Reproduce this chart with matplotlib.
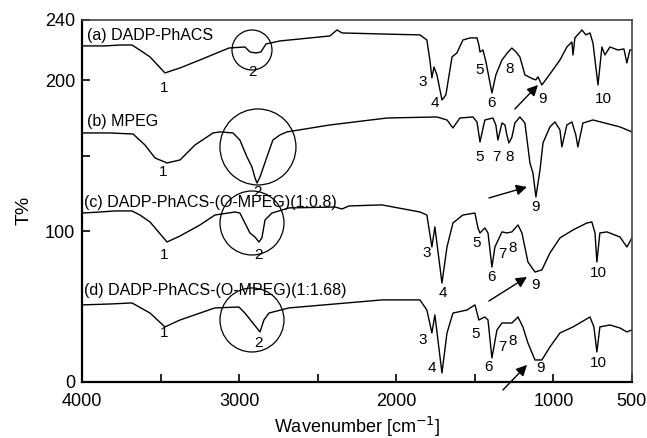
import numpy as np
import matplotlib
matplotlib.use("Agg")
import matplotlib.pyplot as plt
from matplotlib.patches import Ellipse

plt.rcParams['font.family'] = ['Liberation Sans', 'DejaVu Sans']

# --- spectra (wavenumber in cm-1, T%) ---
wn_a = [4000, 3854, 3758, 3682, 3631, 3567, 3472, 3376, 3249, 3065, 2963, 2931, 2893, 2861, 2829,
        2740, 2422, 2377, 2345, 2091, 1849, 1805, 1786, 1773, 1760, 1741, 1709, 1684, 1645, 1614,
        1576, 1531, 1486, 1474, 1467, 1448, 1429, 1391, 1366, 1327, 1288, 1264, 1238, 1213, 1181,
        1130, 1111, 1098, 1073, 1003, 958, 914, 882, 875, 863, 818, 793, 767, 748, 716, 691, 672,
        640, 589, 551, 532, 513, 500]
t_a = [222.8, 222.8, 223.4, 223.4, 220.0, 215.5, 204.9, 208.2, 213.5, 221.4, 222.1, 218.8, 218.1,
       218.8, 224.1, 226.1, 229.4, 233.4, 231.4, 230.7, 230.1, 226.7, 213.5, 201.6, 208.8, 203.6,
       187.0, 190.3, 215.5, 218.1, 226.7, 228.1, 228.1, 223.4, 218.8, 220.1, 212.2, 191.6, 203.6,
       213.5, 218.8, 221.4, 218.8, 215.5, 203.6, 200.9, 200.3, 202.3, 196.9, 206.9, 213.5, 222.1,
       225.4, 216.8, 228.1, 233.4, 230.1, 231.4, 224.8, 196.9, 222.1, 216.8, 222.1, 220.1, 220.8,
       211.5, 220.1, 220.1]

wn_b = [4000, 3822, 3675, 3599, 3535, 3459, 3376, 3281, 3166, 3122, 3039, 2995, 2950, 2918, 2899,
        2886, 2867, 2823, 2785, 2740, 2695, 2422, 2059, 1741, 1677, 1639, 1595, 1512, 1486, 1467,
        1436, 1385, 1366, 1353, 1327, 1308, 1296, 1283, 1264, 1245, 1213, 1181, 1149, 1130, 1111,
        1085, 1066, 1022, 990, 958, 946, 914, 882, 857, 844, 812, 748, 576, 500]
t_b = [165.1, 165.1, 164.4, 157.1, 148.5, 145.2, 147.2, 157.1, 165.1, 165.8, 165.1, 160.4, 149.2,
       142.5, 135.3, 131.9, 135.9, 149.2, 160.4, 163.8, 165.8, 170.4, 175.0, 175.7, 173.7, 168.4,
       175.0, 175.7, 172.4, 159.1, 173.7, 175.0, 170.4, 160.4, 171.7, 170.4, 163.8, 158.5, 162.2,
       171.7, 175.7, 171.7, 145.2, 138.6, 122.7, 140.6, 158.5, 169.1, 172.4, 167.1, 155.8, 170.4,
       172.4, 163.8, 155.8, 171.7, 173.7, 169.1, 165.8]

wn_c = [4000, 3885, 3790, 3682, 3631, 3567, 3459, 3376, 3249, 3154, 3026, 2995, 2963, 2931, 2899,
        2874, 2855, 2835, 2791, 2683, 2390, 2345, 2301, 2091, 1849, 1805, 1773, 1754, 1709, 1677,
        1639, 1576, 1499, 1480, 1467, 1436, 1416, 1391, 1372, 1327, 1296, 1264, 1225, 1200, 1162,
        1117, 1073, 1022, 958, 875, 787, 755, 735, 723, 704, 659, 576, 532, 500]
t_c = [112.0, 112.7, 113.4, 113.4, 110.7, 106.1, 92.8, 96.8, 104.1, 110.7, 112.7, 112.0, 105.4,
       98.8, 96.1, 92.8, 95.5, 107.4, 112.0, 115.4, 116.0, 114.7, 116.7, 117.4, 112.7, 110.7, 89.5,
       102.8, 65.6, 89.5, 105.4, 110.7, 112.0, 102.1, 98.8, 102.1, 98.8, 76.2, 89.5, 99.5, 98.8,
       99.5, 104.1, 98.8, 79.6, 72.9, 74.3, 85.5, 95.5, 100.8, 105.4, 106.1, 98.8, 79.6, 98.8, 99.5,
       96.1, 89.5, 95.5]

wn_d = [4000, 3822, 3682, 3567, 3472, 3376, 3154, 3001, 2963, 2918, 2867, 2842, 2810, 2683, 2091,
        1849, 1805, 1773, 1754, 1709, 1677, 1639, 1550, 1499, 1474, 1436, 1416, 1391, 1359, 1327,
        1264, 1225, 1194, 1162, 1117, 1073, 1022, 958, 875, 767, 742, 723, 704, 640, 576, 532, 500]
t_d = [51.1, 51.7, 52.4, 45.7, 36.5, 41.1, 49.1, 49.7, 45.7, 39.8, 33.2, 41.1, 45.7, 49.1, 54.4,
       54.4, 47.7, 32.5, 44.4, 6.0, 32.5, 45.7, 47.7, 51.1, 41.1, 43.1, 41.1, 15.9, 34.5, 39.1,
       39.1, 43.1, 36.5, 25.9, 14.6, 14.6, 23.2, 32.5, 36.5, 43.1, 36.5, 19.9, 36.5, 37.8, 35.8,
       33.2, 34.5]

series_names = ["(a) DADP-PhACS", "(b) MPEG", "(c) DADP-PhACS-(O-MPEG)(1:0.8)",
                "(d) DADP-PhACS-(O-MPEG)(1:1.68)"]

fig = plt.figure(figsize=(6.47, 4.38), dpi=100)
ax = fig.add_axes([0.1267, 0.1279, 0.850, 0.8265])

for wn, t in [(wn_a, t_a), (wn_b, t_b), (wn_c, t_c), (wn_d, t_d)]:
    ax.plot(wn, t, color='black', lw=1.0)

ax.set_xlim(4000, 500)
ax.set_ylim(0, 240)

# series names
name_pos = [(3970, 229.5), (3970, 172.5), (3990, 119), (3985, 60.5)]
for (x, y), s in zip(name_pos, series_names):
    ax.text(x, y, s, fontsize=11.5, ha='left', va='center')

# circles around band 2
circles = [(2918, 220.1, 20), (2880, 155.8, 38), (2918, 105.4, 32), (2918, 41.1, 32)]
for cx, cy, r in circles:
    ax.add_patch(Ellipse((cx, cy), 2 * r / 0.15714, 2 * r / 1.5083,
                         fill=False, ec='black', lw=0.9))

# band numbers
labels = [
    ("1", 3478, 194.9), ("2", 2912, 205.5),
    ("3", 1830, 198.9), ("4", 1754, 185.0), ("5", 1467, 206.9), ("6", 1391, 185.0),
    ("8", 1276, 207.5), ("9", 1066, 187.6), ("10", 684, 187.6),
    ("1", 3485, 139.2), ("2", 2880, 126.0),
    ("5", 1467, 149.2), ("7", 1365, 149.2), ("8", 1276, 149.2), ("9", 1111, 116.0),
    ("1", 3478, 84.2), ("2", 2874, 84.2),
    ("3", 1805, 85.5), ("4", 1703, 59.0), ("5", 1486, 92.2), ("6", 1391, 69.6),
    ("7", 1327, 84.9), ("8", 1257, 88.8), ("9", 1111, 64.3), ("10", 716, 72.3),
    ("1", 3478, 32.5), ("2", 2874, 25.9),
    ("3", 1830, 27.8), ("4", 1773, 9.3), ("5", 1493, 31.8), ("6", 1410, 9.9),
    ("7", 1327, 23.2), ("8", 1257, 27.2), ("9", 1079, 9.3), ("10", 716, 12.6),
]
for s, x, y in labels:
    ax.text(x, y, s, fontsize=11, ha='center', va='center')

# arrows pointing to band 9
arrows = [((1245, 181.0), (1098, 196.9)), ((1410, 122.0), (1168, 129.3)),
          ((1410, 53.7), (1168, 69.6)), ((1321, -5.3), (1168, 11.3))]
for tail, head in arrows:
    ax.annotate("", xy=head, xytext=tail, annotation_clip=False,
                arrowprops=dict(arrowstyle='-|>', color='black', lw=1.0,
                                mutation_scale=16, shrinkA=0, shrinkB=0))

ax.set_xticks([4000, 3000, 2000, 1000, 500])
ax.set_xticks([3500, 2500, 1500], minor=True)
ax.set_yticks([0, 100, 200, 240])
ax.set_yticks([150], minor=True)
ax.tick_params(which='both', direction='in', top=False, right=False,
               labelsize=13, length=6, width=1.2)
ax.tick_params(axis='x', pad=8)
ax.tick_params(axis='y', pad=5)

for side in ['left', 'bottom']:
    ax.spines[side].set_linewidth(1.6)
for side in ['top', 'right']:
    ax.spines[side].set_linewidth(1.2)
    ax.spines[side].set_color('#444444')

ax.set_xlabel("Wavenumber [cm$^{-1}$]", fontsize=13)
ax.xaxis.set_label_coords(0.5, -0.09)
ax.set_ylabel("T%", fontsize=14)
ax.yaxis.set_label_coords(-0.09, 0.475)

fig.savefig("out.png", dpi=100)
